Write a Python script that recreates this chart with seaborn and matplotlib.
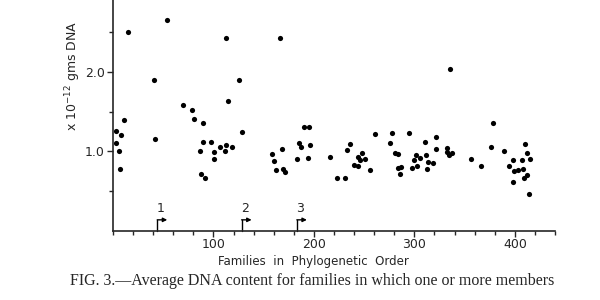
"""Average DNA content per family, in phylogenetic order (Fig. 3)."""
import matplotlib.pyplot as plt
import matplotlib.ticker as mticker
import pandas as pd
import seaborn as sns

# family index (phylogenetic order) and DNA content (x 1e-12 g)
family_idx = [
    3, 8, 3, 6, 7, 11, 15, 41, 42, 54,
    70, 79, 81, 90, 87, 88, 92, 90, 98, 101, 101, 107, 111, 112, 112, 114, 118, 125, 128,
    158, 160, 162, 166, 168, 169, 171, 183, 185, 187, 190, 194, 195, 196,
    216, 223, 231, 233, 236, 240, 244, 244, 246, 248, 251, 256, 261,
    276, 278, 281, 284, 284, 287, 286, 295, 298, 300, 302, 303, 306, 311, 312, 313,
    314, 319, 322, 322, 332, 332, 334, 335, 337,
    356, 366, 376, 378, 389, 394, 398, 398, 399, 403, 407, 408, 409, 410, 412, 412,
    414, 415,
]
dna_content = [
    1.25, 1.20, 1.10, 1.00, 0.78, 1.39, 2.50, 1.90, 1.16, 2.65,
    1.58, 1.52, 1.40, 1.35, 1.00, 0.71, 0.66, 1.12, 1.12, 0.99, 0.91, 1.06, 1.01, 1.08, 2.42, 1.63, 1.05, 1.90, 1.24,
    0.97, 0.88, 0.76, 2.42, 1.03, 0.78, 0.74, 0.90, 1.10, 1.06, 1.30, 0.92, 1.30, 1.08,
    0.93, 0.67, 0.66, 1.02, 1.09, 0.83, 0.93, 0.82, 0.89, 0.98, 0.91, 0.76, 1.22,
    1.10, 1.23, 0.98, 0.97, 0.79, 0.80, 0.71, 1.23, 0.79, 0.89, 0.96, 0.82, 0.92, 1.12, 0.95, 0.78,
    0.86, 0.85, 1.18, 1.03, 1.04, 0.99, 0.95, 2.04, 0.98,
    0.90, 0.82, 1.06, 1.35, 1.01, 0.81, 0.89, 0.61, 0.75, 0.76, 0.89, 0.78, 0.67, 1.09, 0.98, 0.70,
    0.47, 0.91,
]

# group boundaries marked with arrows under the points
marker_labels = ["1", "2", "3"]
marker_pos = [44, 128, 183]

df = pd.DataFrame({"family": family_idx, "dna": dna_content})

sns.set_style("ticks")
plt.rcParams["font.family"] = ["DejaVu Sans"]

fig = plt.figure(figsize=(6, 3), dpi=100)
ax = fig.add_axes([113/600, 1 - 231/300, 442/600, 231/300])

sns.scatterplot(data=df, x="family", y="dna", ax=ax,
    color="black", s=14, linewidth=0, clip_on=False)

ax.set_xlim(0, 440)
ax.set_ylim(0, 2.9)
sns.despine(ax=ax)
for sp in ["left", "bottom"]:
    ax.spines[sp].set_linewidth(1.2)

ax.xaxis.set_major_locator(mticker.MultipleLocator(100))
ax.xaxis.set_minor_locator(mticker.MultipleLocator(20))
ax.yaxis.set_major_locator(mticker.FixedLocator([1.0, 2.0]))
ax.yaxis.set_minor_locator(mticker.FixedLocator([0.5, 1.5, 2.5]))
ax.yaxis.set_major_formatter(mticker.FormatStrFormatter("%.1f"))
ax.set_xticks([100, 200, 300, 400])
ax.tick_params(which="both", direction="out", width=1.0, labelsize=9, pad=2)
ax.tick_params(which="major", length=4)
ax.tick_params(which="minor", length=3)
ax.tick_params(axis="x", pad=1)

ax.set_xlabel("")
ax.set_ylabel("")

for lab, x in zip(marker_labels, marker_pos):
    ax.plot([x, x], [0, 0.14], color="black", lw=1.0, clip_on=False)
    ax.annotate("", xy=(x + 10, 0.14), xytext=(x, 0.14),
        arrowprops=dict(arrowstyle="-|>", color="black", lw=1.0,
            mutation_scale=6, shrinkA=0, shrinkB=0))
    ax.text(x + 3, 0.2, lab, ha="center", va="bottom", fontsize=9)

fig.text(313/600, 1 - 261/300, "Families  in  Phylogenetic  Order",
    ha="center", va="center", fontsize=8.5)
fig.text(73/600, 1 - 76/300, "x 10$^{-12}$ gms DNA", rotation=90,
    ha="center", va="center", fontsize=9)
fig.text(70/600, 1 - 281/300,
    "FIG. 3.\u2014Average DNA content for families in which one or more members",
    ha="left", va="center", fontsize=11.5, family="Liberation Serif")

fig.savefig("out.png", dpi=100, facecolor="white")
